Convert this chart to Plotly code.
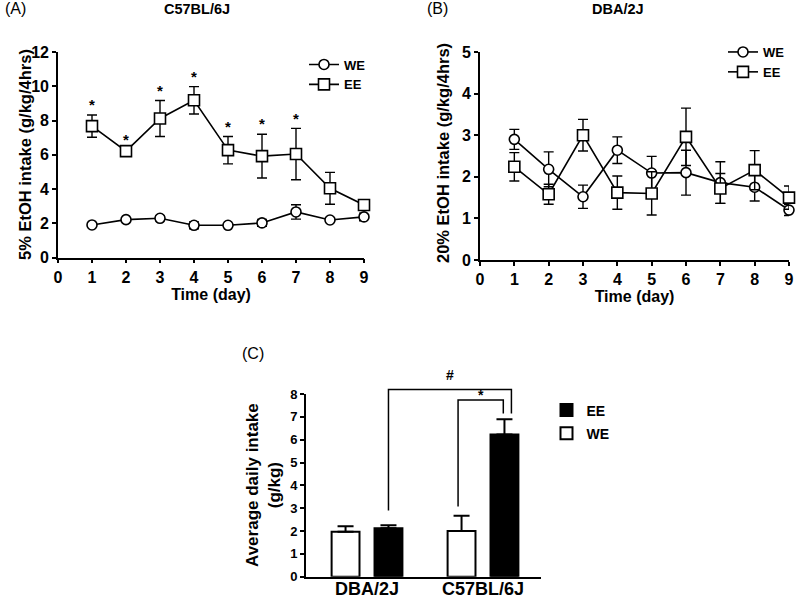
import plotly.graph_objects as go

# ---------------- data ----------------
days = [1, 2, 3, 4, 5, 6, 7, 8, 9]

# Panel A: C57BL/6J, 5% EtOH intake (g/kg/4hrs)
c57_we = [1.90, 2.21, 2.29, 1.88, 1.88, 2.02, 2.66, 2.19, 2.37]
c57_we_err = [0.08, 0.10, 0.15, 0.20, 0.10, 0.20, 0.42, 0.10, 0.22]
c57_ee = [7.67, 6.21, 8.12, 9.18, 6.27, 5.92, 6.04, 4.04, 3.07]
c57_ee_err = [0.65, 0.10, 1.05, 0.80, 0.80, 1.28, 1.50, 0.93, 0.20]
c57_sig_days = [1, 2, 3, 4, 5, 6, 7]

# Panel B: DBA/2J, 20% EtOH intake (g/kg/4hrs)
dba_we = [2.90, 2.18, 1.52, 2.64, 2.09, 2.10, 1.86, 1.75, 1.20]
dba_we_err = [0.24, 0.42, 0.28, 0.32, 0.40, 0.54, 0.50, 0.33, 0.13]
dba_ee = [2.24, 1.58, 3.00, 1.62, 1.60, 2.96, 1.72, 2.16, 1.50]
dba_ee_err = [0.34, 0.24, 0.38, 0.40, 0.52, 0.69, 0.36, 0.47, 0.28]

# Panel C: average daily intake (g/kg)
strains = ["DBA/2J", "C57BL/6J"]
avg_we = [1.97, 2.00]
avg_we_err = [0.24, 0.67]
avg_ee = [2.12, 6.23]
avg_ee_err = [0.13, 0.66]

# significance brackets in panel C (heights in g/kg)
hash_bracket_y = [2.9, 8.2, 8.2, 7.15]
star_bracket_y = [3.07, 7.74, 7.74, 7.15]

# ---------------- styling ----------------
FONT = "Arial, 'Liberation Sans', sans-serif"
BLACK = "black"
BARGAP = 0.26
BARGROUPGAP = 0.35

fig = go.Figure()

def line_trace(x, y, err, name, symbol, size, xa, ya, legend):
    return go.Scatter(
        x=x, y=y, name=name, mode="lines+markers",
        line=dict(color=BLACK, width=1.6),
        marker=dict(symbol=symbol, size=size, color="white",
                    line=dict(color=BLACK, width=1.6)),
        error_y=dict(type="data", array=err, color=BLACK, thickness=1.4, width=5),
        xaxis=xa, yaxis=ya, legend=legend, cliponaxis=False,
    )

# Panel A
fig.add_trace(line_trace(days, c57_we, c57_we_err, "WE", "circle", 10, "x", "y", "legend"))
fig.add_trace(line_trace(days, c57_ee, c57_ee_err, "EE", "square", 11, "x", "y", "legend"))
star_y = [c57_ee[d - 1] + c57_ee_err[d - 1] + 0.5 for d in c57_sig_days]
fig.add_trace(go.Scatter(
    x=c57_sig_days, y=star_y, mode="text", text=["*"] * len(c57_sig_days),
    textfont=dict(family=FONT, size=15, color=BLACK, weight="bold"),
    showlegend=False, xaxis="x", yaxis="y", cliponaxis=False, hoverinfo="skip"))

# Panel B
fig.add_trace(line_trace(days, dba_we, dba_we_err, "WE", "circle", 10, "x2", "y2", "legend2"))
fig.add_trace(line_trace(days, dba_ee, dba_ee_err, "EE", "square", 11, "x2", "y2", "legend2"))

# Panel C bars
xpos = list(range(len(strains)))
fig.add_trace(go.Bar(
    x=xpos, y=avg_we, name="WE", legendrank=2, legendgroup="we",
    marker=dict(color="white", line=dict(color=BLACK, width=2)),
    error_y=dict(type="data", symmetric=False, array=avg_we_err,
                 arrayminus=[0] * len(avg_we), color=BLACK, thickness=2, width=8),
    xaxis="x3", yaxis="y3", legend="legend3"))
fig.add_trace(go.Bar(
    x=xpos, y=avg_ee, name="EE", legendrank=1, legendgroup="ee",
    marker=dict(color=BLACK, line=dict(color=BLACK, width=2)),
    error_y=dict(type="data", symmetric=False, array=avg_ee_err,
                 arrayminus=[0] * len(avg_ee), color=BLACK, thickness=2, width=8),
    xaxis="x3", yaxis="y3", legend="legend3"))

# bracket positions derived from grouped bar layout
off = (1 - BARGAP) / 4.0
dba_i, c57_i = 0, 1
hash_x = [dba_i + off, dba_i + off, c57_i + off + 0.06, c57_i + off + 0.06]
star_x = [c57_i - off - 0.03, c57_i - off - 0.03, c57_i + off - 0.01, c57_i + off - 0.01]
for bx, by in ((hash_x, hash_bracket_y), (star_x, star_bracket_y)):
    fig.add_trace(go.Scatter(x=bx, y=by, mode="lines", line=dict(color=BLACK, width=1.5),
                             showlegend=False, xaxis="x3", yaxis="y4", hoverinfo="skip"))
fig.add_trace(go.Scatter(
    x=[(hash_x[0] + hash_x[2]) / 2, (star_x[0] + star_x[2]) / 2],
    y=[hash_bracket_y[1] + 0.55, star_bracket_y[1] + 0.15],
    mode="text", text=["#", "*"],
    textfont=dict(family=FONT, size=14, color=BLACK, weight="bold"),
    showlegend=False, xaxis="x3", yaxis="y4", cliponaxis=False, hoverinfo="skip"))

# ---------------- layout ----------------
W, H = 800, 603
def px_x(p):
    return p / W
def px_y(p):
    return 1 - p / H

axis_common = dict(showline=True, linecolor=BLACK, linewidth=1.6, ticks="outside",
                   ticklen=4, tickwidth=1.6, tickcolor=BLACK, showgrid=False,
                   zeroline=False, fixedrange=True)
tick16 = dict(family=FONT, size=16, color=BLACK, weight="bold")
title16 = dict(family=FONT, size=16, color=BLACK, weight="bold")

yC0, yC1 = px_y(576.7), px_y(394)

def label(text, x, y, size, bold, angle=0):
    f = dict(family=FONT, size=size, color=BLACK)
    if bold:
        f["weight"] = "bold"
    return dict(text=text, x=px_x(x), y=px_y(y), xref="paper", yref="paper",
                xanchor="center", yanchor="middle", showarrow=False, font=f,
                textangle=angle)

fig.update_layout(
    width=W, height=H, autosize=False,
    margin=dict(l=0, r=0, t=0, b=0, pad=0, autoexpand=False),
    paper_bgcolor="white", plot_bgcolor="rgba(0,0,0,0)",
    font=dict(family=FONT, color=BLACK),
    barmode="group", bargap=BARGAP, bargroupgap=BARGROUPGAP,
    xaxis=dict(domain=[px_x(58), px_x(364)], range=[0, 9], dtick=1, tick0=0,
               anchor="y", tickfont=tick16,
               title=dict(text="Time (day)", font=title16, standoff=4), **axis_common),
    yaxis=dict(domain=[px_y(257.5), px_y(52)], range=[0, 12], dtick=2, tick0=0,
               anchor="x", tickfont=tick16, **axis_common),
    xaxis2=dict(domain=[px_x(480), px_x(789)], range=[0, 9], dtick=1, tick0=0,
                anchor="y2", tickfont=tick16,
                title=dict(text="Time (day)", font=title16, standoff=4), **axis_common),
    yaxis2=dict(domain=[px_y(260), px_y(52)], range=[0, 5], dtick=1, tick0=0,
                anchor="x2", tickfont=tick16, **axis_common),
    xaxis3=dict(domain=[px_x(306), px_x(541)], range=[-0.526, 1.5],
                tickvals=xpos, ticktext=strains, anchor="y3", ticklabelstandoff=-5,
                tickfont=dict(family=FONT, size=18, color=BLACK, weight="bold"),
                **dict(axis_common, ticks="")),
    yaxis3=dict(domain=[yC0, yC1], range=[0, 8], dtick=1, tick0=0, anchor="x3",
                tickfont=dict(family=FONT, size=13, color=BLACK, weight="bold"),
                **axis_common),
    yaxis4=dict(domain=[yC0, yC0 + (yC1 - yC0) * 9 / 8], range=[0, 9], anchor="x3",
                visible=False, fixedrange=True),
    legend=dict(x=px_x(304), y=px_y(49.5), xanchor="left", yanchor="top",
                bgcolor="rgba(0,0,0,0)", itemwidth=30,
                font=dict(family=FONT, size=13, color=BLACK, weight="bold")),
    legend2=dict(x=px_x(723), y=px_y(37), xanchor="left", yanchor="top",
                 bgcolor="rgba(0,0,0,0)", itemwidth=30,
                 font=dict(family=FONT, size=13, color=BLACK, weight="bold")),
    legend3=dict(x=px_x(546.5), y=px_y(394.5), xanchor="left", yanchor="top",
                 bgcolor="rgba(0,0,0,0)", itemwidth=30, tracegroupgap=2,
                 font=dict(family=FONT, size=14, color=BLACK, weight="bold")),
    annotations=[
        label("(A)", 15, 8, 16, False),
        label("C57BL/6J", 197, 9, 14.5, True),
        label("(B)", 437, 8, 16, False),
        label("DBA/2J", 618, 9, 14.5, True),
        label("(C)", 253, 353, 16, False),
        label("5% EtOH intake (g/kg/4hrs)", 25, 155, 16.5, True, -90),
        label("20% EtOH intake (g/kg/4hrs)", 443, 153, 16.5, True, -90),
        label("Average daily intake<br>(g/kg)", 263, 485, 17, True, -90),
    ],
)

fig.write_html("out.html", config={"displayModeBar": False},
               post_script="document.body.style.margin='0';")
